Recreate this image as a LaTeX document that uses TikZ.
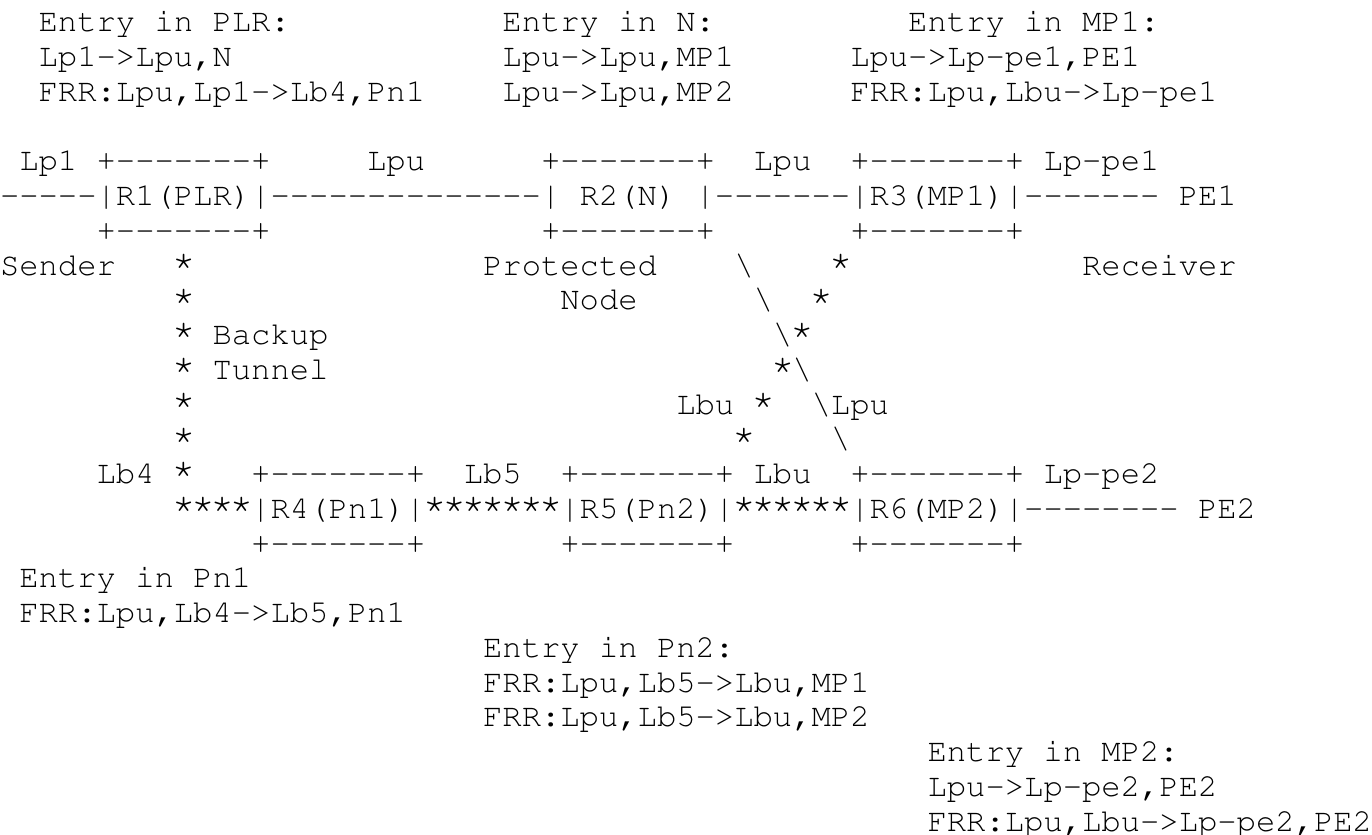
\documentclass[tikz,border=0pt]{standalone}
\usepackage[T1]{fontenc}
\usepackage{graphicx}
\usepackage{tikz}
\renewcommand{\ttdefault}{pcr}
\frenchspacing
% one raised star in a cell of its own, and runs of characters kept apart
\newcommand{\st}{\makebox[0.6em]{\smash{\raisebox{0.12em}{\scalebox{1.25}{*}}}}}
\newcommand{\dashrun}[1]{\foreach \k in {1,...,#1}{-}}
\newcommand{\starrun}[1]{\foreach \k in {1,...,#1}{\st}}
\newcommand{\bs}{\textbackslash}

\begin{document}
\begin{tikzpicture}[x=6pt,y=-10.79pt]

   \tikzstyle{txt}=[font=\ttfamily,inner sep=0pt,outer sep=0pt,anchor=base west,yshift=-9.93pt]

   % page of 71 columns and 24 rows
   \useasboundingbox (0,0) rectangle (71,24);

   % entries of PLR, N and MP1
   \node[txt] (plrtitle) at (2,0) {Entry in PLR:};
   \node[txt] (ntitle)   at (26,0) {Entry in N:};
   \node[txt] (mpatitle) at (47,0) {Entry in MP1:};

   \node[txt] (plrlsp) at (2,1) {Lp1->Lpu,N};
   \node[txt] (nlspa)  at (26,1) {Lpu->Lpu,MP1};
   \node[txt] (mpalsp) at (44,1) {Lpu->Lp-pe1,PE1};

   \node[txt] (plrfrr) at (2,2) {FRR:Lpu,Lp1->Lb4,Pn1};
   \node[txt] (nlspb)  at (26,2) {Lpu->Lpu,MP2};
   \node[txt] (mpafrr) at (44,2) {FRR:Lpu,Lbu->Lp-pe1};

   % primary path R1 - R2 - R3
   \node[txt] (lpone)     at (1,4) {Lp1};
   \node[txt] (ronetop)   at (5,4) {+\dashrun{7}+};
   \node[txt] (lpua)      at (19,4) {Lpu};
   \node[txt] (rtwotop)   at (28,4) {+\dashrun{7}+};
   \node[txt] (lpub)      at (39,4) {Lpu};
   \node[txt] (rthreetop) at (44,4) {+\dashrun{7}+};
   \node[txt] (lppeone)   at (54,4) {Lp-pe1};

   \node[txt] (linkin)    at (0,5) {\dashrun{5}};
   \node[txt] (rone)      at (5,5) {|R1(PLR)|};
   \node[txt] (linkab)    at (14,5) {\dashrun{14}};
   \node[txt] (rtwo)      at (28,5) {| R2(N) |};
   \node[txt] (linkbc)    at (37,5) {\dashrun{7}};
   \node[txt] (rthree)    at (44,5) {|R3(MP1)|};
   \node[txt] (linkpeone) at (53,5) {\dashrun{7}};
   \node[txt] (peone)     at (61,5) {PE1};

   \node[txt] (ronebot)   at (5,6) {+\dashrun{7}+};
   \node[txt] (rtwobot)   at (28,6) {+\dashrun{7}+};
   \node[txt] (rthreebot) at (44,6) {+\dashrun{7}+};

   % backup tunnel and the two diagonals
   \node[txt] (sender)    at (0,7) {Sender};
   \node[txt] (bta)       at (9,7) {\st};
   \node[txt] (protected) at (25,7) {Protected};
   \node[txt] (diaga)     at (38,7) {\bs};
   \node[txt] (bua)       at (43,7) {\st};
   \node[txt] (receiver)  at (56,7) {Receiver};

   \node[txt] (btb)       at (9,8) {\st};
   \node[txt] (nodelabel) at (29,8) {Node};
   \node[txt] (diagb)     at (39,8) {\bs};
   \node[txt] (bub)       at (42,8) {\st};

   \node[txt] (backup)    at (9,9) {\st{} Backup};
   \node[txt] (diagc)     at (40,9) {\bs\st};

   \node[txt] (tunnel)    at (9,10) {\st{} Tunnel};
   \node[txt] (diagd)     at (40,10) {\st\bs};

   \node[txt] (btc)       at (9,11) {\st};
   \node[txt] (lbua)      at (35,11) {Lbu \st};
   \node[txt] (lpuc)      at (42,11) {\bs Lpu};

   \node[txt] (btd)       at (9,12) {\st};
   \node[txt] (bue)       at (38,12) {\st};
   \node[txt] (diage)     at (43,12) {\bs};

   % backup path R4 - R5 - R6
   \node[txt] (lbfour)    at (5,13) {Lb4 \st};
   \node[txt] (rfourtop)  at (13,13) {+\dashrun{7}+};
   \node[txt] (lbfive)    at (24,13) {Lb5};
   \node[txt] (rfivetop)  at (29,13) {+\dashrun{7}+};
   \node[txt] (lbub)      at (39,13) {Lbu};
   \node[txt] (rsixtop)   at (44,13) {+\dashrun{7}+};
   \node[txt] (lppetwo)   at (54,13) {Lp-pe2};

   \node[txt] (btin)      at (9,14) {\starrun{4}};
   \node[txt] (rfour)     at (13,14) {|R4(Pn1)|};
   \node[txt] (btde)      at (22,14) {\starrun{7}};
   \node[txt] (rfive)     at (29,14) {|R5(Pn2)|};
   \node[txt] (btef)      at (38,14) {\starrun{6}};
   \node[txt] (rsix)      at (44,14) {|R6(MP2)|};
   \node[txt] (linkpetwo) at (53,14) {\dashrun{8}};
   \node[txt] (petwo)     at (62,14) {PE2};

   \node[txt] (rfourbot)  at (13,15) {+\dashrun{7}+};
   \node[txt] (rfivebot)  at (29,15) {+\dashrun{7}+};
   \node[txt] (rsixbot)   at (44,15) {+\dashrun{7}+};

   % entries of Pn1, Pn2 and MP2
   \node[txt] (pnatitle) at (1,16) {Entry in Pn1};
   \node[txt] (pnafrr)   at (1,17) {FRR:Lpu,Lb4->Lb5,Pn1};

   \node[txt] (pnbtitle) at (25,18) {Entry in Pn2:};
   \node[txt] (pnbfrra)  at (25,19) {FRR:Lpu,Lb5->Lbu,MP1};
   \node[txt] (pnbfrrb)  at (25,20) {FRR:Lpu,Lb5->Lbu,MP2};

   \node[txt] (mpbtitle) at (48,21) {Entry in MP2:};
   \node[txt] (mpblsp)   at (48,22) {Lpu->Lp-pe2,PE2};
   \node[txt] (mpbfrr)   at (48,23) {FRR:Lpu,Lbu->Lp-pe2,PE2};

\end{tikzpicture}
\end{document}
